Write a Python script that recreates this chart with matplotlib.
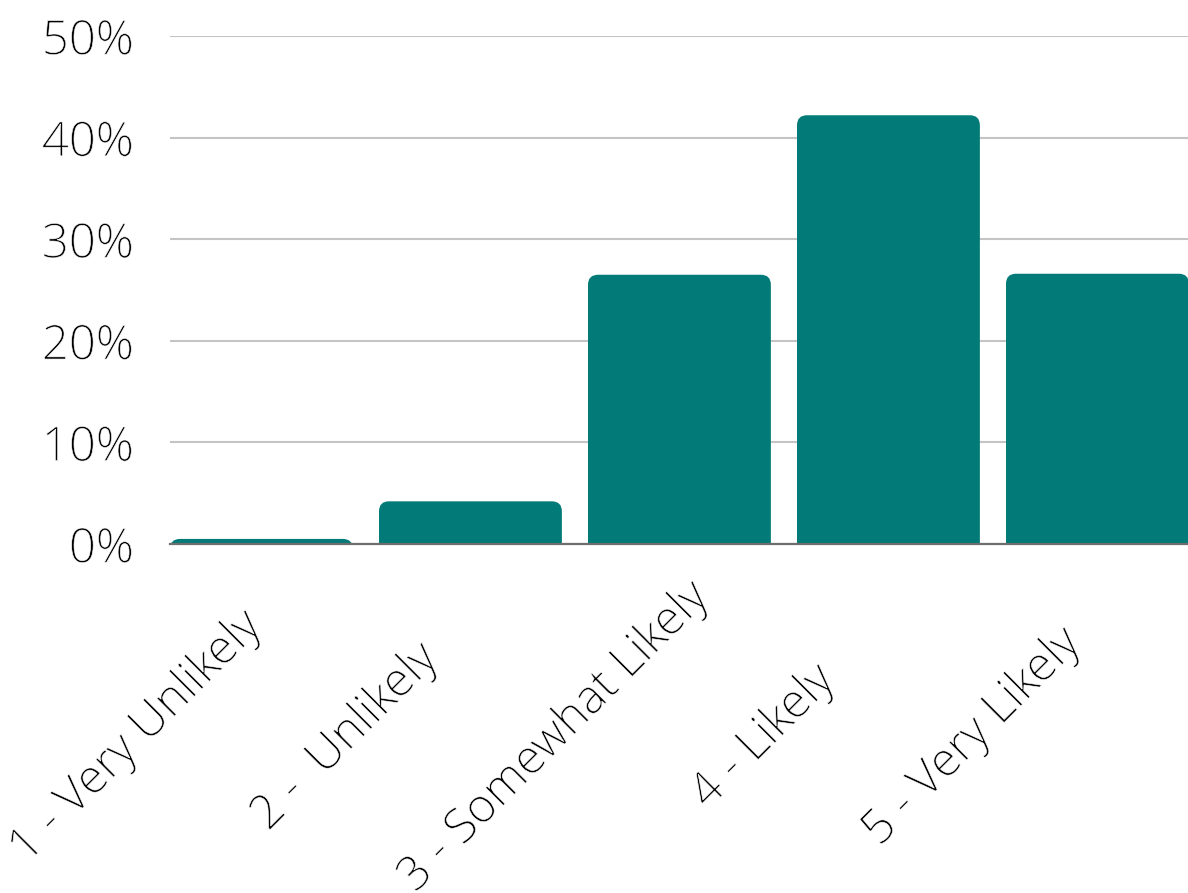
import matplotlib
matplotlib.use("Agg")
import matplotlib.pyplot as plt
import matplotlib.transforms as mtransforms
import matplotlib.patheffects as pe
from matplotlib.patches import FancyBboxPatch
from matplotlib.ticker import FuncFormatter

categories = ["1 - Very Unlikely", "2 -  Unlikely", "3 - Somewhat Likely",
              "4 - Likely", "5 - Very Likely"]
shares = [0.5, 4.2, 26.5, 42.2, 26.6]
y_ticks = [0, 10, 20, 30, 40, 50]

BAR_COLOR = "#027B78"
GRID_COLOR = "#C4C4C4"
TEXT_COLOR = "#000000"

plt.rcParams["font.family"] = ["Open Sans", "DejaVu Sans"]

# slim the glyph outlines slightly for a lighter look
thin = [pe.Normal(),
        pe.PathPatchEffect(edgecolor="white", facecolor="none", linewidth=0.45)]

W, H, DPI = 1188, 893, 100
fig = plt.figure(figsize=(W / DPI, H / DPI), dpi=DPI)
ax = fig.add_axes([170 / W, 1 - 544 / H, (W - 170) / W, (544 - 36) / H])

bar_width = 0.875
x = list(range(len(categories)))
bars = ax.bar(x, shares, width=bar_width, color=BAR_COLOR, zorder=3)

ax.set_xlim(-bar_width / 2, -bar_width / 2 + (W - 170) / 209)
ax.set_ylim(0, 50)

# rounded tops: replace plain rectangles with rounded boxes that start below 0
px_x = (ax.get_xlim()[1] - ax.get_xlim()[0]) / (W - 170)
px_y = 50 / (544 - 36)
radius_px = 10
for b in bars:
    b.set_visible(False)
    x0, w, h = b.get_x(), b.get_width(), b.get_height()
    drop = 3.0
    patch = FancyBboxPatch((x0, -drop), w, h + drop,
                           boxstyle=f"round,pad=0,rounding_size={radius_px * px_x}",
                           mutation_aspect=px_y / px_x,
                           facecolor=BAR_COLOR, edgecolor="none", zorder=3,
                           clip_on=True)
    ax.add_patch(patch)

ax.set_yticks(y_ticks)
ax.yaxis.set_major_formatter(FuncFormatter(lambda v, _: f"{v:.0f}%"))
ax.tick_params(axis="y", length=0, pad=26, labelsize=34, labelcolor=TEXT_COLOR)
for lab in ax.get_yticklabels():
    lab.set_fontweight("light")
    lab.set_path_effects(thin)
ax.grid(axis="y", color=GRID_COLOR, linewidth=1.5, zorder=1)
ax.grid(axis="x", visible=False)

for s in ["top", "right", "left"]:
    ax.spines[s].set_visible(False)
ax.spines["bottom"].set_color("#6E6E6E")
ax.spines["bottom"].set_linewidth(1.6)
ax.spines["bottom"].set_zorder(4)

ax.set_xticks(x)
ax.set_xticklabels([])
ax.tick_params(axis="x", length=0)

# category labels, rotated 45 degrees and centred below-left of each tick
label_trans = mtransforms.blended_transform_factory(ax.transData, fig.transFigure) + \
    mtransforms.ScaledTranslation(-125 / DPI, 0, fig.dpi_scale_trans)
for xi, name in zip(x, categories):
    ax.text(xi, 1 - 737 / H, name, transform=label_trans, rotation=45,
            rotation_mode="anchor", ha="center", va="center",
            fontsize=34, fontweight="light", color=TEXT_COLOR, clip_on=False,
            path_effects=thin)

fig.savefig("out.png", dpi=DPI)
